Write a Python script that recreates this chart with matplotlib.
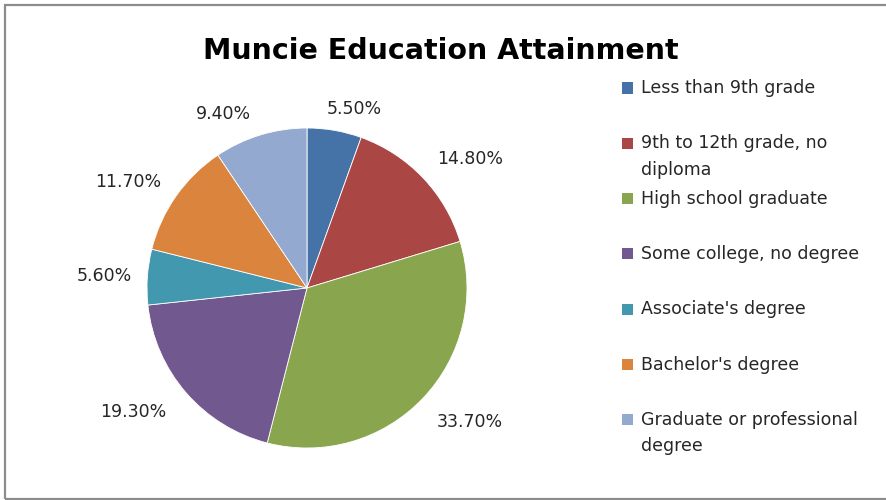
import numpy as np
import matplotlib.pyplot as plt
from matplotlib.patches import Rectangle

categories = ["Less than 9th grade", "9th to 12th grade, no\ndiploma",
              "High school graduate", "Some college, no degree",
              "Associate's degree", "Bachelor's degree",
              "Graduate or professional\ndegree"]
shares = [5.5, 14.8, 33.7, 19.3, 5.6, 11.7, 9.4]
colors = ["#4572A7", "#AA4643", "#89A54E", "#71588F",
          "#4198AF", "#DB843D", "#93A9CF"]
# where each percentage label sits: distance in pie radii, turn in degrees
label_dist = [1.155, 1.30, 1.32, 1.335, 1.27, 1.30, 1.205]
label_turn = [-5.0, -5.3, 4.3, -5.4, 0.6, 4.4, 8.6]

plt.rcParams['font.family'] = ['DejaVu Sans']

W, H = 886, 500
fig = plt.figure(figsize=(W / 100, H / 100), dpi=100)

# chart frame
fig.patches.append(Rectangle((5 / W, 1 / H), 1.0, (H - 6) / H,
                             transform=fig.transFigure, fill=False,
                             edgecolor="#8c8c8c", linewidth=1.6))

cx, cy, r = 307, 288, 160
ax = fig.add_axes([(cx - r) / W, (H - cy - r) / H, 2 * r / W, 2 * r / H])
wedges, texts = ax.pie(
    shares, colors=colors, startangle=90, counterclock=False,
    wedgeprops=dict(edgecolor="white", linewidth=0.6))
for w, v, d, turn in zip(wedges, shares, label_dist, label_turn):
    a = np.deg2rad((w.theta1 + w.theta2) / 2 + turn)
    ax.text(d * np.cos(a), d * np.sin(a), "%.2f%%" % v, ha="center",
            va="center", fontsize=12.5, color="#262626")
ax.set_xlim(-1, 1)
ax.set_ylim(-1, 1)
ax.set_aspect("equal")

fig.text(441 / W, 1 - 59 / H, "Muncie Education Attainment",
         ha="center", va="baseline", fontsize=20.5, fontweight="bold",
         color="black")

# legend, first lines evenly spaced
y0, step = 88, 55.3
for i, (lab, col) in enumerate(zip(categories, colors)):
    y = y0 + i * step
    fig.patches.append(Rectangle((622 / W, 1 - (y + 5.5) / H), 11 / W, 11 / H,
                                 transform=fig.transFigure,
                                 facecolor=col, edgecolor="none"))
    fig.text(641 / W, 1 - (y - 9) / H, lab, ha="left", va="top",
             fontsize=12.5, color="#262626", linespacing=1.6)

fig.savefig("out.png", dpi=100, facecolor="white")
